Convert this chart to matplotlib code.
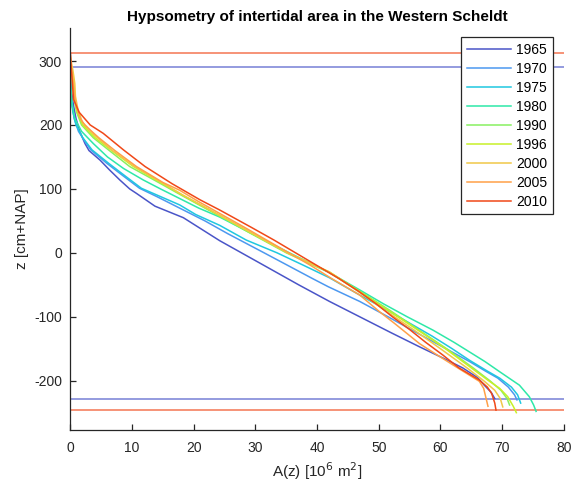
import matplotlib
matplotlib.use("Agg")
import matplotlib.pyplot as plt

plt.rcParams['font.family'] = ['Liberation Sans', 'DejaVu Sans']
plt.rcParams['axes.unicode_minus'] = False

years = ['1965', '1970', '1975', '1980', '1990', '1996', '2000', '2005', '2010']
colors = ['#4a55c8', '#4c98f0', '#1fc8e0', '#2ee8a8', '#88f060',
          '#c8f028', '#f0c848', '#ffa048', '#f04818']

# surface level z [cm+NAP] and area A(z) [10^6 m^2] per survey year
z_1965 = [291, 270, 250, 230, 210, 190, 171, 160, 145, 130, 114, 100, 93, 73, 55,
          19, -16, -50, -76, -100, -125, -147, -165, -180, -195, -207, -218, -228]
a_1965 = [0.0, 0.0, 0.2, 0.5, 0.9, 1.5, 2.35, 3.0, 4.8, 6.3, 8.0, 9.6, 10.7, 13.7, 18.3,
          24.2, 30.7, 37.0, 42.0, 46.9, 52.0, 56.6, 60.5, 63.6, 66.0, 67.1, 68.2, 68.8]

z_1970 = [285, 270, 250, 230, 210, 190, 175, 161, 140, 120, 101, 88, 70, 50, 30,
          0, -20, -40, -53, -76, -100, -120, -140, -170, -185, -196, -210, -222, -230]
a_1970 = [0.0, 0.0, 0.1, 0.3, 0.6, 1.3, 2.3, 3.3, 5.9, 8.6, 11.2, 14.0, 17.7, 21.8, 25.5,
          31.4, 35.3, 39.2, 41.8, 46.9, 51.5, 55.2, 59.0, 64.7, 67.3, 69.3, 71.0, 72.0, 72.4]

z_1975 = [280, 260, 240, 220, 200, 180, 161, 140, 120, 101, 88, 75, 60, 43, 20,
          0, -20, -39, -66, -90, -110, -130, -150, -168, -185, -196, -210, -222, -235]
a_1975 = [0.0, 0.0, 0.1, 0.4, 0.9, 2.0, 3.5, 6.2, 8.9, 11.5, 14.6, 17.7, 20.3, 24.2, 28.5,
          33.5, 37.9, 42.0, 46.9, 51.4, 55.0, 58.6, 61.9, 64.7, 67.6, 69.6, 71.5, 72.5, 73.0]

z_1980 = [290, 270, 250, 230, 210, 190, 171, 150, 132, 114, 100, 85, 70, 56, 30,
          0, -31, -58, -80, -100, -121, -140, -155, -170, -186, -207, -225, -238, -248]
a_1980 = [0.0, 0.0, 0.1, 0.3, 0.7, 1.8, 3.7, 6.0, 8.6, 11.8, 14.6, 17.7, 20.8, 24.2, 29.4,
          35.5, 42.0, 46.9, 50.8, 54.6, 58.8, 62.2, 64.7, 67.2, 69.6, 72.8, 74.4, 75.1, 75.5]

z_1990 = [295, 280, 260, 240, 220, 200, 180, 160, 135, 110, 90, 70, 50, 30,
          0, -30, -60, -90, -120, -150, -180, -200, -215, -228, -238]
a_1990 = [0.0, 0.2, 0.4, 0.6, 1.0, 1.8, 3.7, 6.3, 9.6, 14.3, 18.0, 21.8, 25.6, 29.3,
          35.0, 41.8, 46.9, 51.8, 56.4, 61.0, 65.3, 68.0, 69.8, 70.8, 71.2]

z_1996 = [300, 280, 260, 240, 220, 200, 180, 160, 135, 110, 90, 70, 50, 30,
          0, -30, -60, -90, -120, -150, -180, -200, -212, -225, -240, -250]
a_1996 = [0.0, 0.3, 0.6, 0.7, 1.1, 2.0, 4.0, 6.7, 10.2, 14.6, 18.2, 22.0, 25.8, 29.5,
          35.2, 42.0, 46.8, 51.5, 56.2, 60.8, 65.0, 67.8, 69.6, 70.9, 71.8, 72.3]

z_2000 = [305, 285, 265, 245, 225, 205, 185, 160, 135, 110, 90, 70, 50, 30,
          0, -30, -60, -90, -120, -150, -180, -200, -215, -228, -241]
a_2000 = [0.0, 0.4, 0.7, 0.8, 1.2, 1.9, 3.8, 6.8, 10.4, 14.8, 18.3, 22.1, 25.9, 29.6,
          35.2, 42.0, 46.6, 51.0, 55.6, 60.0, 64.3, 67.0, 68.8, 69.7, 70.1]

z_2005 = [308, 290, 270, 250, 230, 210, 200, 180, 160, 135, 110, 98, 80, 60, 40, 20,
          0, -20, -40, -66, -92, -110, -142, -160, -180, -201, -212, -220, -232, -240]
a_2005 = [0.0, 0.1, 0.4, 0.6, 0.9, 1.6, 2.3, 4.6, 7.2, 10.7, 15.0, 17.7, 20.8, 24.5, 28.2, 31.8,
          35.4, 39.0, 42.3, 46.9, 50.1, 52.5, 56.6, 59.5, 62.8, 66.3, 67.0, 67.2, 67.5, 67.7]

z_2010 = [312, 300, 280, 260, 240, 220, 200, 187, 161, 135, 108, 83, 67, 40, 20,
          0, -20, -40, -60, -80, -100, -120, -140, -160, -180, -199, -210, -220, -235, -246]
a_2010 = [0.0, 0.05, 0.2, 0.35, 0.5, 1.4, 3.2, 5.3, 8.6, 12.1, 16.5, 21.0, 24.2, 29.3, 33.0,
          36.5, 40.0, 43.5, 46.7, 49.6, 52.2, 55.0, 57.6, 60.4, 63.0, 66.3, 67.6, 68.3, 68.8, 69.0]

z_series = [z_1965, z_1970, z_1975, z_1980, z_1990, z_1996, z_2000, z_2005, z_2010]
a_series = [a_1965, a_1970, a_1975, a_1980, a_1990, a_1996, a_2000, a_2005, a_2010]

fig = plt.figure(figsize=(5.73, 4.88), dpi=100)
ax = fig.add_axes([0.123, 0.119, 0.861, 0.824])

for z, a, c, yr in zip(z_series, a_series, colors, years):
    ax.plot(a, z, color=c, lw=1.1, label=yr)

# highest and lowest levels of the first and last surveys
for z, c in ((z_1965, colors[0]), (z_2010, colors[-1])):
    ax.axhline(max(z), color=c, lw=1.1, alpha=0.75, zorder=1)
    ax.axhline(min(z), color=c, lw=1.1, alpha=0.75, zorder=1)

ax.set_xlim(0, 80)
ax.set_ylim(-277, 352)
ax.set_xticks(range(0, 81, 10))
ax.set_yticks([-200, -100, 0, 100, 200, 300])

dark = '#262626'
for s in ('top', 'right'):
    ax.spines[s].set_visible(False)
for s in ('left', 'bottom'):
    ax.spines[s].set_color(dark)
    ax.spines[s].set_linewidth(0.9)
ax.tick_params(direction='in', length=4, width=0.9, colors=dark,
               labelsize=10, pad=6)
ax.tick_params(axis='x', pad=8)

ax.set_xlabel('A(z) [10$^6$ m$^2$]', fontsize=11, color=dark)
ax.set_ylabel('z [cm+NAP]', fontsize=11, color=dark)
ax.set_title('Hypsometry of intertidal area in the Western Scheldt',
             fontsize=11, fontweight='bold', color='black', pad=5)

leg = ax.legend(loc='upper right', bbox_to_anchor=(0.978, 0.977), fontsize=10,
                frameon=True, fancybox=False, edgecolor=dark, framealpha=1,
                handlelength=3.2, labelspacing=0.36, borderpad=0.4,
                handletextpad=0.35, borderaxespad=0)
leg.get_frame().set_linewidth(0.9)

fig.savefig('out.png', dpi=100)
